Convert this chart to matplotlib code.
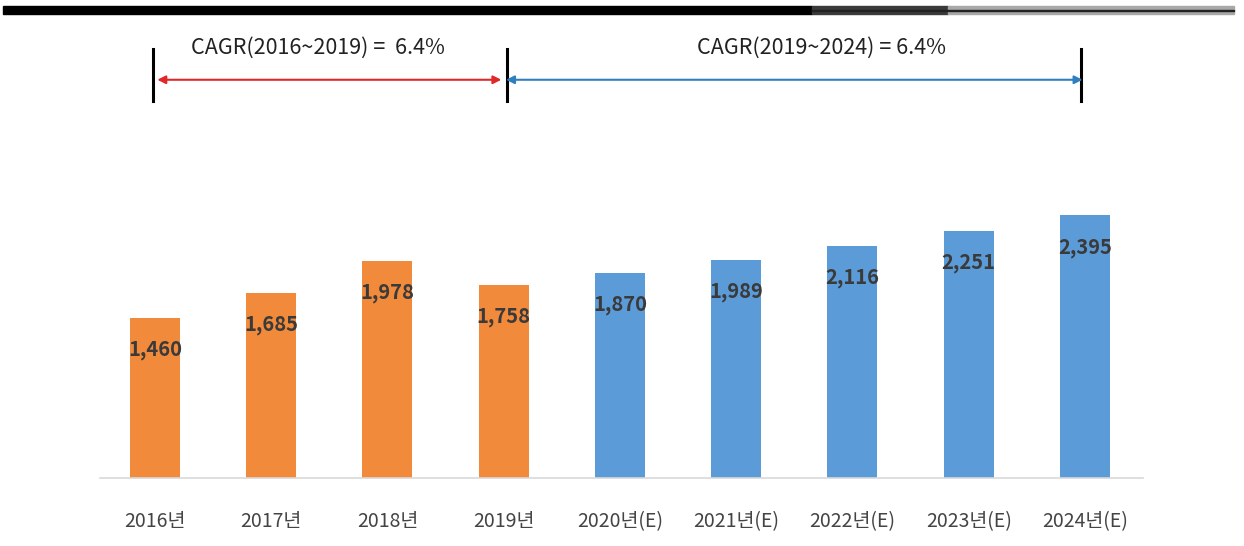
import matplotlib
matplotlib.use("Agg")
import matplotlib.pyplot as plt
from matplotlib.patches import Rectangle

# data
years = ["2016년", "2017년", "2018년", "2019년", "2020년(E)", "2021년(E)",
         "2022년(E)", "2023년(E)", "2024년(E)"]
values = [1460, 1685, 1978, 1758, 1870, 1989, 2116, 2251, 2395]
is_estimate = [False, False, False, False, True, True, True, True, True]
cagr_texts = ["CAGR(2016~2019) =  6.4%", "CAGR(2019~2024) = 6.4%"]
cagr_spans = [(0, 3), (3, 8)]

ORANGE = "#F28A3C"
BLUE = "#5B9BD8"
FONT = ["Noto Sans CJK KR", "DejaVu Sans"]
plt.rcParams["font.family"] = FONT

fig = plt.figure(figsize=(12.44, 5.46), dpi=100)
ax = fig.add_axes([100 / 1244, 68 / 546, 1043 / 1244, 0.864])

x = list(range(len(years)))
colors = [BLUE if e else ORANGE for e in is_estimate]
ax.bar(x, values, width=0.43, color=colors, zorder=2)

for xi, v in zip(x, values):
  ax.text(xi, v - 290, "{:,}".format(v), ha="center", va="center",
          fontsize=14.5, fontweight="bold", color="#3a3a3a", zorder=3)

ax.set_xlim(-0.473, 8.5)
ax.set_ylim(0, 4300)
for s in ["top", "right", "left"]:
  ax.spines[s].set_visible(False)
ax.spines["bottom"].set_color("#d9d9d9")
ax.spines["bottom"].set_linewidth(1.2)
ax.set_yticks([])
ax.set_xticks(x)
ax.set_xticklabels(years, fontsize=14, color="#444444")
ax.tick_params(axis="x", length=0, pad=24)

# CAGR arrows
arrow_y = 3630
arrow_colors = ["#e0282a", "#2f7fc0"]
text_shift = [-0.1, 0.23]
for (a, b), txt, c, dx in zip(cagr_spans, cagr_texts, arrow_colors, text_shift):
  ax.annotate("", xy=(a + 0.02, arrow_y), xytext=(b - 0.02, arrow_y),
              arrowprops=dict(arrowstyle="<|-|>", color=c, lw=1.5,
                              mutation_scale=12, shrinkA=0, shrinkB=0),
              annotation_clip=False)
  ax.text((a + b) / 2 + dx, 3925, txt, ha="center", va="center",
          fontsize=15.5, color="#222222", clip_on=False)
for xt in [-0.02, 3.03, 7.97]:
  ax.plot([xt, xt], [3440, 3910], color="black", lw=2.2, clip_on=False)

# header strip at the top
fig.add_artist(Rectangle((3 / 1244, 1 - 14 / 546), 809 / 1244, 8 / 546,
                         transform=fig.transFigure, color="black"))
fig.add_artist(Rectangle((812 / 1244, 1 - 14 / 546), 136 / 1244, 8 / 546,
                         transform=fig.transFigure, color="#3a3a3a"))
fig.add_artist(Rectangle((948 / 1244, 1 - 14 / 546), 286 / 1244, 8 / 546,
                         transform=fig.transFigure, color="#a8a8a8"))
fig.add_artist(Rectangle((812 / 1244, 1 - 11 / 546), 422 / 1244, 1.5 / 546,
                         transform=fig.transFigure, color="#222222"))

fig.savefig("out.png", dpi=100)
